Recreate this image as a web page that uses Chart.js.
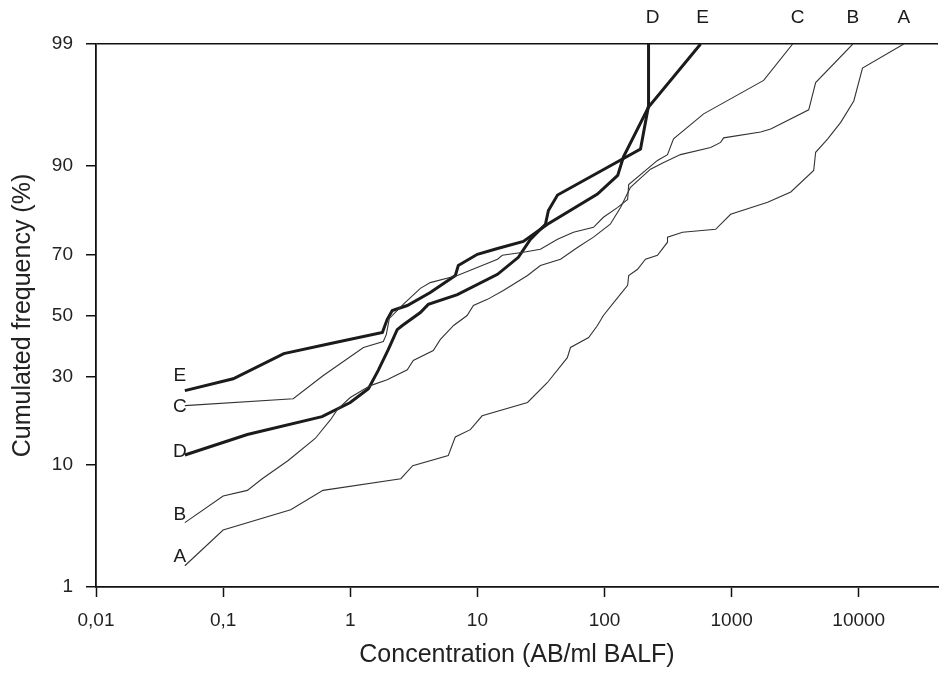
<!DOCTYPE html>
<html lang="en">
<head>
  <meta charset="UTF-8">
  <title>Cumulated frequency vs concentration</title>
  <script src="https://cdn.jsdelivr.net/npm/chart.js@4.4.1/dist/chart.umd.min.js"></script>
  <style>
    html, body {
      margin: 0;
      padding: 0;
      background-color: #fff;
    }
    .chart-box {
      width: 940px;
      height: 674px;
    }
  </style>
</head>
<body>
  <div class="chart-box">
    <canvas id="freqChart" width="940" height="674"></canvas>
  </div>

  <script>
    // Concentration (AB/ml BALF) and cumulated frequency (%), per group
    const concA = [0.05, 0.1, 0.34, 0.61, 2.5, 3.1, 5.9, 6.7, 8.8, 10.9, 24.8, 35.6, 51, 54, 75, 88, 98, 118, 152, 155, 182, 210, 261, 313, 313, 411, 748, 982, 1920, 2920, 4420, 4580, 5700, 7210, 9140, 10700, 22600];
    const freqA = [1.6, 3.3, 4.8, 6.7, 8.1, 9.9, 11.5, 14.9, 16.4, 19.5, 22.8, 28.3, 35.9, 39.2, 42.5, 46.6, 50, 54.4, 60.2, 63.4, 65.4, 68.5, 69.7, 73.5, 74.9, 76.2, 77.0, 80.7, 83.4, 85.5, 89.3, 91.9, 93.5, 95.1, 96.7, 98.3, 99];

    const concB = [0.05, 0.1, 0.155, 0.203, 0.325, 0.53, 0.70, 0.79, 1.0, 1.44, 1.95, 2.81, 3.13, 4.5, 5.1, 6.5, 8.3, 9.3, 12.0, 16.0, 24.8, 31.3, 45.1, 61.2, 81.9, 111, 134, 160, 230, 292, 396, 684, 819, 865, 1690, 2030, 4040, 4580, 8980];
    const freqB = [3.8, 6.1, 6.7, 8.1, 10.7, 14.6, 18.6, 21.0, 24.1, 27.4, 29.1, 32.1, 35.0, 38.2, 41.8, 46.6, 50, 53.4, 55.5, 58.5, 63.4, 66.6, 68.5, 72.0, 74.9, 78.3, 82.3, 86.4, 89.5, 90.5, 91.6, 92.5, 93.1, 93.6, 94.2, 94.5, 96.1, 97.7, 99];

    const concC = [0.05, 0.356, 0.61, 1.27, 1.82, 1.92, 2.03, 2.61, 3.56, 4.26, 6.96, 14.4, 15.7, 23.0, 31.3, 42.7, 57.0, 81.9, 98, 127, 152, 155, 261, 313, 349, 602, 1786, 3020];
    const freqC = [22.0, 23.8, 30.3, 39.2, 41.2, 43.5, 49.0, 53.8, 59.2, 61.1, 63.4, 68.5, 69.7, 70.6, 71.5, 74.3, 76.2, 77.5, 80.0, 82.3, 84.0, 86.9, 90.8, 91.6, 93.5, 95.8, 97.8, 99];

    const concD = [0.05, 0.155, 0.60, 1.0, 1.39, 1.66, 1.99, 2.34, 2.57, 3.56, 4.11, 6.96, 14.4, 21.0, 26.1, 34.3, 36.2, 42.7, 192, 222, 222];
    const freqD = [11.6, 15.4, 19.3, 22.8, 26.5, 31.9, 38.5, 45.2, 46.6, 51.0, 53.8, 57.1, 63.8, 69.1, 74.3, 78.3, 81.6, 84.9, 92.3, 96.4, 99];

    const concE = [0.05, 0.12, 0.30, 0.70, 1.79, 1.95, 2.14, 2.81, 4.26, 6.71, 7.08, 10.0, 14.4, 23.0, 35.6, 88, 127, 141, 222, 570];
    const freqE = [26.0, 29.4, 37.2, 40.5, 44.2, 48.6, 51.7, 53.4, 57.8, 63.4, 66.6, 70.0, 71.7, 73.7, 78.3, 85.1, 88.5, 91.3, 96.3, 99];

    const xTicks = [0.01, 0.1, 1, 10, 100, 1000, 10000];
    const xTickLabels = ['0,01', '0,1', '1', '10', '100', '1000', '10000'];
    const yTicks = [1, 10, 30, 50, 70, 90, 99];

    // inverse normal CDF (Acklam) -> probability axis
    function probit(p) {
      const a = [-39.69683028665376, 220.9460984245205, -275.9285104469687, 138.3577518672690, -30.66479806614716, 2.506628277459239];
      const b = [-54.47609879822406, 161.5858368580409, -155.6989798598866, 66.80131188771972, -13.28068155288572];
      const c = [-0.007784894002430293, -0.3223964580411365, -2.400758277161838, -2.549732539343734, 4.374664141464968, 2.938163982698783];
      const d = [0.007784695709041462, 0.3224671290700398, 2.445134137142996, 3.754408661907416];
      const pl = 0.02425;
      if (p < pl) {
        const q = Math.sqrt(-2 * Math.log(p));
        return (((((c[0] * q + c[1]) * q + c[2]) * q + c[3]) * q + c[4]) * q + c[5]) / ((((d[0] * q + d[1]) * q + d[2]) * q + d[3]) * q + 1);
      }
      if (p > 1 - pl) {
        const q = Math.sqrt(-2 * Math.log(1 - p));
        return -(((((c[0] * q + c[1]) * q + c[2]) * q + c[3]) * q + c[4]) * q + c[5]) / ((((d[0] * q + d[1]) * q + d[2]) * q + d[3]) * q + 1);
      }
      const q = p - 0.5, r = q * q;
      return (((((a[0] * r + a[1]) * r + a[2]) * r + a[3]) * r + a[4]) * r + a[5]) * q / (((((b[0] * r + b[1]) * r + b[2]) * r + b[3]) * r + b[4]) * r + 1);
    }

    const yTop = probit(0.99);
    const yBottom = probit(0.01);

    function points(conc, freq) {
      return conc.map((c, i) => ({ x: c, y: probit(freq[i] / 100) }));
    }

    const thin = { borderColor: '#333', borderWidth: 1.1 };
    const thick = { borderColor: '#1b1b1b', borderWidth: 3 };

    const datasets = [
      { label: 'A', data: points(concA, freqA), ...thin },
      { label: 'B', data: points(concB, freqB), ...thin },
      { label: 'C', data: points(concC, freqC), ...thin },
      { label: 'D', data: points(concD, freqD), ...thick },
      { label: 'E', data: points(concE, freqE), ...thick }
    ];

    // letters next to the start and above the end of each curve
    const curveLabels = {
      id: 'curveLabels',
      afterDatasetsDraw(chart, args, opts) {
        const ctx = chart.ctx;
        ctx.save();
        ctx.font = '19px "Liberation Sans", Arial, sans-serif';
        ctx.fillStyle = '#1a1a1a';
        ctx.textAlign = 'center';
        ctx.textBaseline = 'middle';
        chart.data.datasets.forEach((ds, i) => {
          const pts = chart.getDatasetMeta(i).data;
          const first = pts[0];
          const last = pts[pts.length - 1];
          const off = opts.offsets[ds.label];
          ctx.fillText(ds.label, first.x + off.left[0], first.y + off.left[1]);
          ctx.fillText(ds.label, last.x + off.top, chart.chartArea.top - 26);
        });
        ctx.restore();
      }
    };

    const tickFont = { family: '"Liberation Sans", Arial, sans-serif', size: 19 };
    const titleFont = { family: '"Liberation Sans", Arial, sans-serif', size: 25 };

    new Chart(document.getElementById('freqChart'), {
      type: 'line',
      data: { datasets: datasets },
      options: {
        responsive: false,
        animation: false,
        parsing: false,
        elements: {
          point: { radius: 0 },
          line: { tension: 0 }
        },
        layout: { padding: { top: 44, right: 2, left: 0, bottom: 0 } },
        plugins: {
          legend: { display: false },
          tooltip: { enabled: false },
          curveLabels: {
            offsets: {
              A: { left: [-5, -9], top: 0 },
              B: { left: [-5, -8], top: 0 },
              C: { left: [-5, 1], top: 5 },
              D: { left: [-5, -3], top: 4 },
              E: { left: [-5, -15], top: 2 }
            }
          }
        },
        scales: {
          x: {
            type: 'logarithmic',
            min: 0.01,
            max: 42000,
            afterBuildTicks: scale => {
              scale.ticks = xTicks.map(v => ({ value: v }));
            },
            afterFit: scale => { scale.height = 87; },
            ticks: {
              color: '#222',
              font: tickFont,
              padding: 12,
              maxRotation: 0,
              autoSkip: false,
              callback: (value, index) => xTickLabels[index]
            },
            grid: {
              drawOnChartArea: false,
              tickLength: 10,
              tickWidth: 1.5,
              tickColor: '#111'
            },
            border: { display: true, color: '#111', width: 1.8 },
            title: {
              display: true,
              text: 'Concentration (AB/ml BALF)',
              color: '#222',
              font: titleFont,
              padding: { top: 0, bottom: 4 }
            }
          },
          y: {
            type: 'linear',
            min: yBottom,
            max: yTop,
            afterBuildTicks: scale => {
              scale.ticks = yTicks.map(v => ({ value: probit(v / 100) }));
            },
            afterFit: scale => { scale.width = 96; },
            ticks: {
              color: '#222',
              font: tickFont,
              padding: 13,
              autoSkip: false,
              callback: (value, index) => String(yTicks[index])
            },
            grid: {
              color: ctx => (ctx.tick && Math.abs(ctx.tick.value - yTop) < 1e-9) ? '#111' : 'rgba(0,0,0,0)',
              lineWidth: 1.5,
              tickLength: 10,
              tickWidth: 1.5,
              tickColor: '#111'
            },
            border: { display: true, color: '#111', width: 1.8 },
            title: {
              display: true,
              text: 'Cumulated frequency (%)',
              color: '#222',
              font: titleFont,
              padding: { top: 8, bottom: 0 }
            }
          }
        }
      },
      plugins: [curveLabels]
    });
  </script>
</body>
</html>
